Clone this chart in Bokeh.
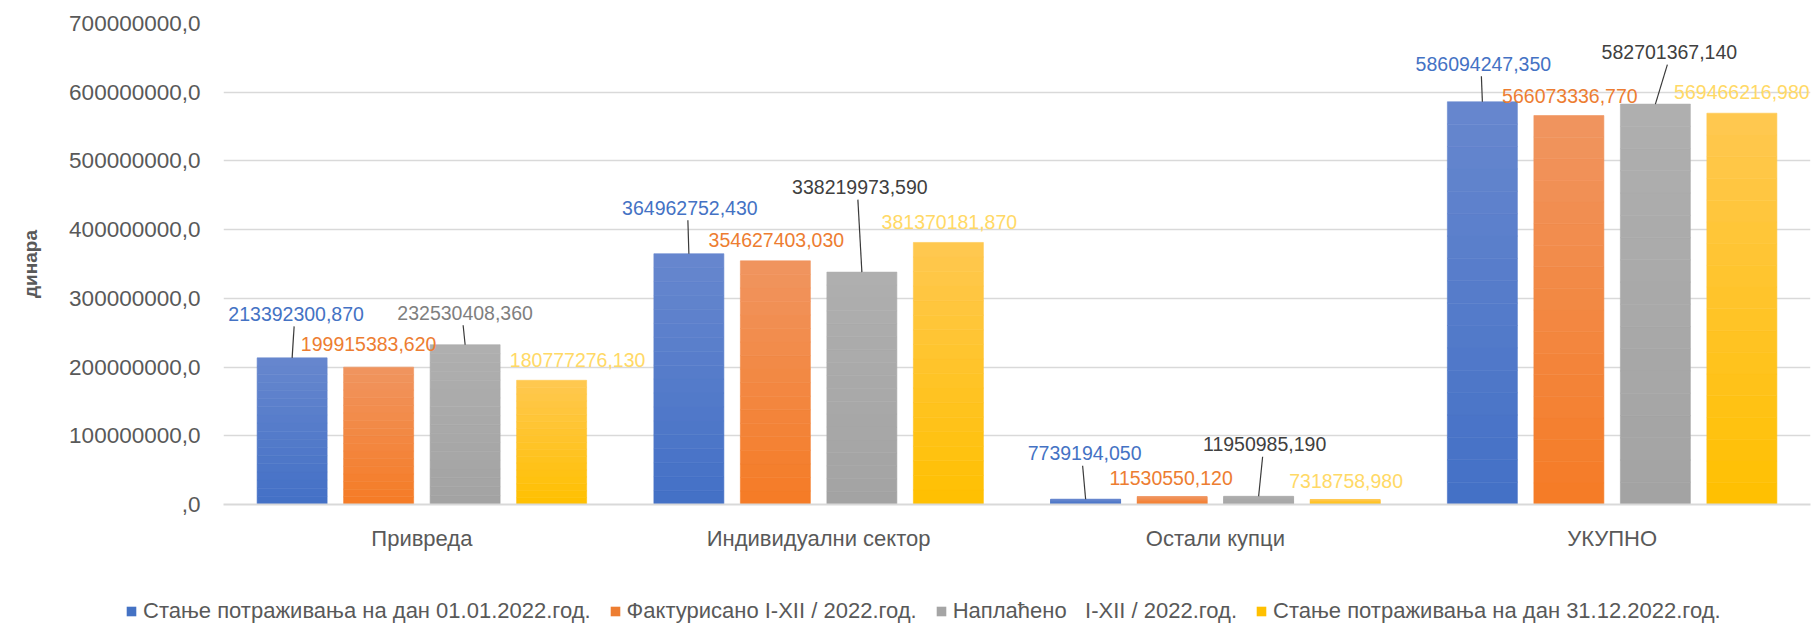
from bokeh.plotting import figure
from bokeh.models import (ColumnDataSource, Range1d, Legend, LegendItem,
                          CustomJSTickFormatter, FixedTicker)
from bokeh.core.properties import value
from bokeh.embed import file_html
from bokeh.resources import INLINE

# ---------------- data ----------------
categories = ["Привреда", "Индивидуални сектор", "Остали купци", "УКУПНО"]
series_names = [
    "Стање потраживања на дан 01.01.2022.год.",
    "Фактурисано I-XII / 2022.год.",
    "Наплаћено   I-XII / 2022.год.",
    "Стање потраживања на дан 31.12.2022.год.",
]
stanje_01_01 = [213392300.870, 364962752.430, 7739194.050, 586094247.350]
fakturisano = [199915383.620, 354627403.030, 11530550.120, 566073336.770]
naplaceno = [232530408.360, 338219973.590, 11950985.190, 582701367.140]
stanje_31_12 = [180777276.130, 381370181.870, 7318758.980, 569466216.980]
y_ticks = [0, 100000000, 200000000, 300000000, 400000000, 500000000, 600000000, 700000000]

series_values = [stanje_01_01, fakturisano, naplaceno, stanje_31_12]

# ---------------- styles ----------------
FONT = "Liberation Sans"
TEXT_GREY = "#595959"
base_colors = ["#4472C4", "#ED7D31", "#A5A5A5", "#FFC000"]
top_colors = ["#6787CE", "#F09560", "#AFAFAF", "#FFC851"]
bottom_colors = ["#4370C6", "#F57B25", "#A3A3A3", "#FFC000"]
label_colors = [
    ["#4472C4"] * 4,
    ["#ED7D31"] * 4,
    ["#7F7F7F", "#404040", "#404040", "#404040"],
    ["#FFD966"] * 4,
]
# label offsets (px, right / up) relative to bar top centre
label_dx = [[4, 1, -1, 1], [-10, 1, -1, 1], [0, -2, 6, 14], [26, 1, 1, 0]]
label_dy = [[44, 46, 46, 38], [23, 21, 19, 20], [32, 85, 52, 52], [20, 20, 18, 21]]
leader = [[True] * 4, [False] * 4, [True] * 4, [False] * 4]

W = 1816
H_MAIN, H_LEG = 580, 56
BL, BR, BT = 223, 6, 23
BB = H_MAIN - 504
FW = W - BL - BR
FH = H_MAIN - BT - BB
YMAX = 700000000
PX_X = len(categories) / FW
PX_Y = YMAX / FH
bar_w = 70 * PX_X
step = 86.5 * PX_X
N_SLICES = 18
LEGEND_LEFT = 125


def mix(c1, c2, t):
    a = [int(c1[i:i + 2], 16) for i in (1, 3, 5)]
    b = [int(c2[i:i + 2], 16) for i in (1, 3, 5)]
    return "#%02x%02x%02x" % tuple(round(a[k] * (1 - t) + b[k] * t) for k in range(3))


p = figure(width=W, height=H_MAIN, x_range=Range1d(0, len(categories)),
           y_range=Range1d(0, YMAX), output_backend="svg",
           toolbar_location=None, min_border_left=BL, min_border_right=BR,
           min_border_top=BT, min_border_bottom=BB, outline_line_color=None)

# bars as gradient slices
xs, bots, tops, cols = [], [], [], []
lab = dict(x=[], y=[], t=[], c=[])
seg = dict(x0=[], y0=[], x1=[], y1=[])
for si, vals in enumerate(series_values):
    for ci, v in enumerate(vals):
        xc = ci + 0.5 + (si - 1.5) * step
        for k in range(N_SLICES):
            t = (k + 0.5) / N_SLICES
            xs.append(xc)
            bots.append(v * k / N_SLICES)
            tops.append(v * (k + 1) / N_SLICES)
            cols.append(mix(bottom_colors[si], top_colors[si], t))
        lx = xc + label_dx[si][ci] * PX_X
        ly = v + label_dy[si][ci] * PX_Y
        lab["x"].append(lx)
        lab["y"].append(ly)
        lab["t"].append(("%.3f" % v).replace(".", ","))
        lab["c"].append(label_colors[si][ci])
        if leader[si][ci]:
            seg["x0"].append(xc)
            seg["y0"].append(v)
            seg["x1"].append(lx - 2 * PX_X)
            seg["y1"].append(ly - 12.5 * PX_Y)

bar_src = ColumnDataSource(dict(x=xs, bottom=bots, top=tops, color=cols))
p.vbar(x="x", width=bar_w, bottom="bottom", top="top", source=bar_src,
       fill_color="color", line_color="color", line_width=0.6)

p.segment(x0="x0", y0="y0", x1="x1", y1="y1", source=ColumnDataSource(seg),
          line_color="#3a3a3a", line_width=1.2)

p.text(x="x", y="y", text="t", source=ColumnDataSource(lab), text_color="c",
       text_font=value(FONT), text_font_size="19.5px", text_align="center",
       text_baseline="middle")

# axes
p.xgrid.grid_line_color = None
p.ygrid.grid_line_color = "#D9D9D9"
p.ygrid.grid_line_width = 1.5

p.xaxis.ticker = FixedTicker(ticks=[i + 0.5 for i in range(len(categories))])
p.xaxis.major_label_overrides = {i + 0.5: c for i, c in enumerate(categories)}
p.xaxis.axis_line_color = "#D9D9D9"
p.xaxis.axis_line_width = 2
p.xaxis.major_tick_line_color = None
p.xaxis.minor_tick_line_color = None
p.xaxis.major_label_standoff = 15
p.xaxis.major_label_text_font = FONT
p.xaxis.major_label_text_font_size = "22px"
p.xaxis.major_label_text_color = TEXT_GREY

p.yaxis.ticker = FixedTicker(ticks=y_ticks)
p.yaxis.formatter = CustomJSTickFormatter(
    code="return tick == 0 ? ',0' : tick.toFixed(0) + ',0';")
p.yaxis.axis_line_color = None
p.yaxis.major_tick_line_color = None
p.yaxis.minor_tick_line_color = None
p.yaxis.major_label_standoff = 17
p.yaxis.major_label_text_font = FONT
p.yaxis.major_label_text_font_size = "22.5px"
p.yaxis.major_label_text_color = TEXT_GREY
p.yaxis.axis_label = "динара"
p.yaxis.axis_label_text_font = FONT
p.yaxis.axis_label_text_font_style = "bold"
p.yaxis.axis_label_text_font_size = "19px"
p.yaxis.axis_label_text_color = TEXT_GREY
p.yaxis.axis_label_standoff = 25

# legend in its own strip below the chart (a separate root, so not aligned)
pl = figure(width=W, height=H_LEG, x_range=Range1d(0, 1), y_range=Range1d(0, 1),
            output_backend="svg", toolbar_location=None, min_border=0,
            x_axis_location=None, y_axis_location=None, outline_line_color=None)
pl.grid.visible = False
items = []
for si, name in enumerate(series_names):
    r = pl.vbar(x=[0.5], bottom=[0], top=[0], width=0, fill_color=base_colors[si],
                line_color=None)
    items.append(LegendItem(label=name, renderers=[r]))
legend = Legend(items=items, orientation="horizontal", location=(LEGEND_LEFT, 12),
                glyph_width=12, glyph_height=12, label_standoff=6, spacing=18,
                padding=0, margin=0, border_line_alpha=0, background_fill_alpha=0,
                label_text_font=FONT, label_text_font_size="22px",
                label_text_color=TEXT_GREY)
pl.add_layout(legend)

open("out.html", "w").write(file_html([p, pl], INLINE))
